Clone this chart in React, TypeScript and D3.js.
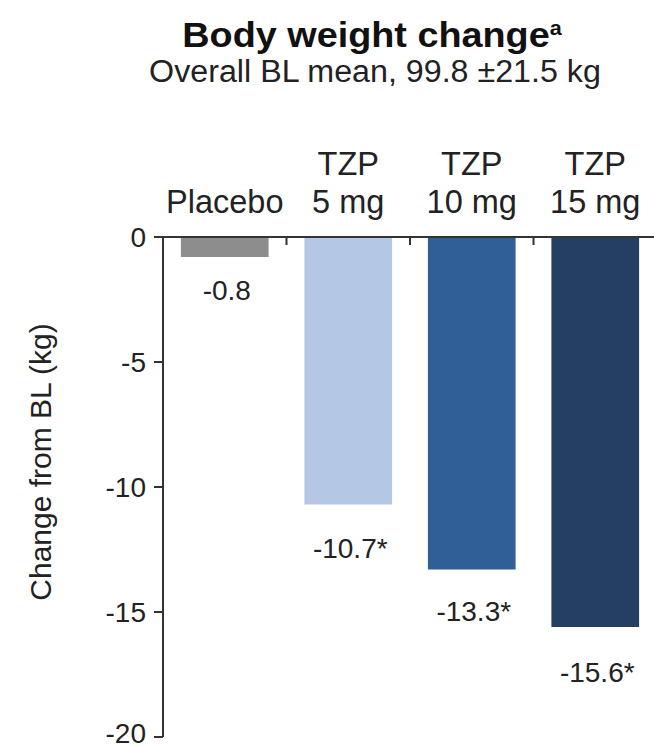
import React from "react";
import * as d3 from "d3";

const categoriesTop = ["", "TZP", "TZP", "TZP"];
const categoriesBottom = ["Placebo", "5 mg", "10 mg", "15 mg"];
const values = [-0.8, -10.7, -13.3, -15.6];
const valueLabels = ["-0.8", "-10.7*", "-13.3*", "-15.6*"];
const yTicks = [0, -5, -10, -15, -20];
const colors = ["#8d8d8d", "#b4c7e5", "#305e96", "#253f62"];

// layout constants (pixels below bar end for the value label baseline)
const labelOffsets = [43, 53, 51, 55];

const W = 654;
const H = 748;
const left = 163;
const right = 657;
const top = 237;
const bottom = 737;
const FONT = "Liberation Sans, Arial, sans-serif";

export default function App() {
  const x = d3
    .scaleBand<number>()
    .domain(d3.range(values.length))
    .range([left, right])
    .paddingInner(0)
    .paddingOuter(0);
  const y = d3.scaleLinear().domain([0, -20]).range([top, bottom]);
  const bw = x.bandwidth() * 0.71;

  return (
    <div style={{ position: "absolute", left: 0, top: 0 }}>
      <svg width={W} height={H} style={{ display: "block", background: "#fff" }} fontFamily={FONT}>
        <text
          transform="translate(372, 47) scale(1.08, 1)"
          textAnchor="middle"
          fontSize={35}
          fontWeight="bold"
          fill="#111"
        >
          Body weight change
          <tspan fontSize={20} dy={-12}>a</tspan>
        </text>
        <text
          transform="translate(375, 82) scale(1.04, 1)"
          textAnchor="middle"
          fontSize={31}
          fill="#222"
        >
          Overall BL mean, 99.8 ±21.5 kg
        </text>

        {values.map((v, i) => {
          const cx = x(i)! + x.bandwidth() / 2;
          return (
            <g key={i}>
              <rect x={cx - bw / 2} y={y(0)} width={bw} height={y(v) - y(0)} fill={colors[i]} />
              <text x={cx + 2} y={y(v) + labelOffsets[i]} textAnchor="middle" fontSize={28} fill="#222">
                {valueLabels[i]}
              </text>
              {categoriesTop[i] && (
                <text x={cx} y={175} textAnchor="middle" fontSize={32.5} fill="#222">
                  {categoriesTop[i]}
                </text>
              )}
              <text x={cx} y={213} textAnchor="middle" fontSize={32.5} fill="#222">
                {categoriesBottom[i]}
              </text>
            </g>
          );
        })}

        {/* x axis */}
        <line x1={154} x2={W} y1={y(0)} y2={y(0)} stroke="#333" strokeWidth={2} />
        {d3.range(1, values.length).map((i) => (
          <line key={i} x1={x(i)!} x2={x(i)!} y1={y(0)} y2={y(0) + 8} stroke="#333" strokeWidth={2} />
        ))}

        {/* y axis */}
        <line x1={left} x2={left} y1={y(0)} y2={y(-20)} stroke="#333" strokeWidth={2} />
        {yTicks.map((t) => (
          <g key={t}>
            <line x1={left - 9} x2={left} y1={y(t)} y2={y(t)} stroke="#333" strokeWidth={2} />
            <text x={left - 17} y={Math.min(y(t) + 10, H - 5)} textAnchor="end" fontSize={28} fill="#222">
              {t}
            </text>
          </g>
        ))}

        <text
          transform={`translate(51, 462) rotate(-90)`}
          textAnchor="middle"
          fontSize={30}
          fill="#222"
        >
          Change from BL (kg)
        </text>
      </svg>
    </div>
  );
}
